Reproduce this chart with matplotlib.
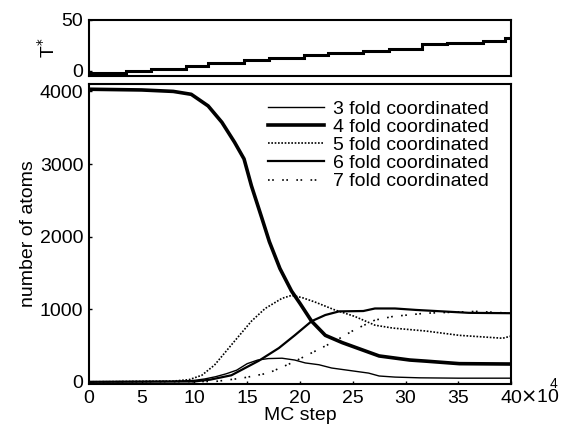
import numpy as np
import matplotlib
matplotlib.use("Agg")
import matplotlib.pyplot as plt

plt.rcParams['font.family'] = ['Liberation Sans', 'DejaVu Sans']

# temperature schedule (top panel), step edges in units of 10^4 MC steps
t_edges = [0, 3.5, 5.9, 9.2, 11.3, 14.7, 17.1, 20.4, 22.7, 26, 28.4, 31.6, 33.9, 37.3, 39.4, 40]
t_levels = [-2, 0, 2, 5, 8, 11, 13, 16, 18, 20, 22, 26, 27, 29, 32]

# coordination counts (bottom panel)
s3 = [0, 8, 10, 11, 12, 13, 14, 15, 16, 17, 18.3, 19.5, 20.5, 21.8, 23, 25, 26.5, 27.5, 29, 31.3, 35, 40]
n3 = [0, 5, 20, 40, 70, 110, 160, 250, 300, 320, 325, 300, 260, 235, 190, 150, 120, 80, 65, 55, 50, 50]

s4 = [0, 5, 8, 9.7, 11.3, 12.6, 13.8, 14.7, 15.4, 16.4, 17.1, 18.1, 19.2, 20, 21.1, 22.4, 24, 25.9, 27.5, 30.4, 31.9, 35.1, 40]
n4 = [4030, 4020, 4000, 3960, 3800, 3575, 3300, 3070, 2700, 2250, 1930, 1560, 1250, 1080, 835, 640, 540, 440, 356, 300, 285, 250, 245]

s5 = [0, 8, 9.5, 10.7, 11.9, 13.8, 15.4, 16.7, 18.3, 19.2, 20.2, 21.4, 23.3, 25.2, 27.1, 28.8, 31.9, 35.1, 39.2, 40]
n5 = [0, 10, 30, 90, 230, 560, 835, 1010, 1150, 1190, 1160, 1100, 990, 900, 780, 740, 700, 640, 600, 630]

s6 = [0, 10, 11.5, 13.5, 16.1, 18, 19.5, 21.1, 22.4, 23.7, 26, 27.1, 29, 31, 33.5, 36, 40]
n6 = [0, 5, 30, 90, 290, 465, 640, 835, 920, 970, 975, 1010, 1010, 990, 970, 950, 945]

s7 = [0, 12, 14.5, 17, 19.2, 21.4, 23.3, 25.2, 27.1, 28.8, 31.9, 36.7, 40]
n7 = [0, 5, 50, 120, 260, 420, 560, 720, 850, 900, 945, 970, 945]

labels = ['3 fold coordinated', '4 fold coordinated', '5 fold coordinated',
          '6 fold coordinated', '7 fold coordinated']
xticks = [0, 5, 10, 15, 20, 25, 30, 35, 40]

fig = plt.figure(figsize=(5.66, 4.25), dpi=100)
ax_t = fig.add_axes([0.157, 0.821, 0.746, 0.132])
ax = fig.add_axes([0.157, 0.0965, 0.746, 0.7055])

for a in (ax_t, ax):
    for sp in a.spines.values():
        sp.set_linewidth(1.5)
    a.tick_params(direction='in', length=2, width=1, labelsize=14, pad=4)
    a.set_xlim(0, 40)

# top panel
ax_t.stairs(t_levels, t_edges, color='black', lw=2.2, baseline=None)
ax_t.set_ylim(-5, 50)
ax_t.set_yticks([0, 50])
ax_t.set_xticks([])
ax_t.set_ylabel(r'T$^{*}$', fontsize=14, labelpad=2)

# bottom panel
ax.plot(s3, n3, color='black', lw=1.0, ls='-', label=labels[0])
ax.plot(s4, n4, color='black', lw=2.6, ls='-', label=labels[1])
ax.plot(s5, n5, color='black', lw=1.2, ls=(0, (1, 1)), label=labels[2])
ax.plot(s6, n6, color='black', lw=1.6, ls='-', label=labels[3])
ax.plot(s7, n7, color='black', lw=1.2, ls=(0, (1, 1.5, 1, 5)), label=labels[4])

ax.set_ylim(-30, 4100)
ax.set_yticks([0, 1000, 2000, 3000, 4000])
ax.set_xticks(xticks)
ax.set_xticklabels([str(v) for v in xticks])
ax.set_xlabel('MC step', fontsize=14, labelpad=0)
ax.set_ylabel('number of atoms', fontsize=14, labelpad=2)

leg = ax.legend(loc='upper left', bbox_to_anchor=(268 / 566, 1 - 100 / 425),
                bbox_transform=fig.transFigure, frameon=False, fontsize=14,
                handlelength=2.9, handletextpad=0.45, labelspacing=0.03,
                borderpad=0, borderaxespad=0)

fig.text(520 / 566, 1 - 398 / 425, r'$\times$10', fontsize=14, ha='left', va='center')
fig.text(550 / 566, 1 - 384 / 425, '4', fontsize=10, ha='left', va='center')

fig.savefig('out.png', dpi=100)
